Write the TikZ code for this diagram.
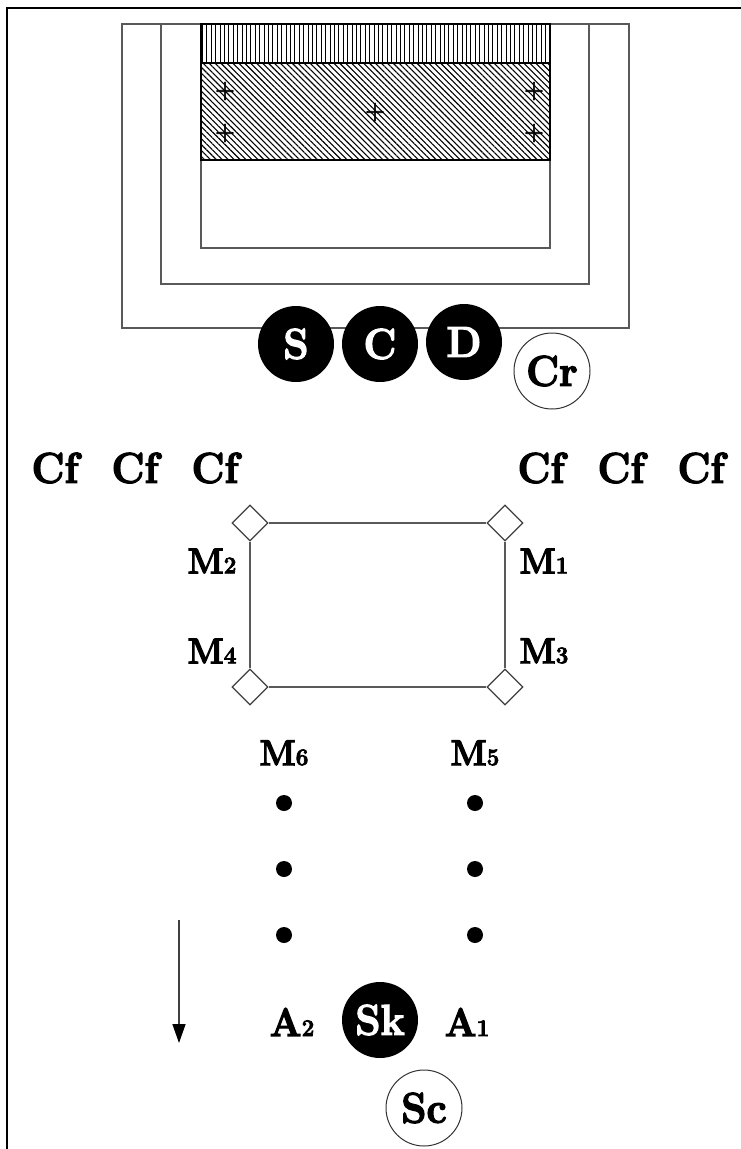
\documentclass[tikz,border=0pt]{standalone}
\usepackage{fontspec}
\setmainfont[BoldFeatures={FakeBold=3,FakeStretch=0.94}]{Latin Modern Roman}
\usetikzlibrary{calc, positioning, arrows.meta, patterns.meta, shapes}
\tikzset{
  blackdisc/.style={circle, fill=black, text=white, minimum size=76pt, inner sep=0pt, font=\fontsize{43}{45}\bfseries\selectfont},
  whitedisc/.style={circle, draw=black!80, line width=1pt, minimum size=76pt, inner sep=0pt, font=\fontsize{43}{45}\bfseries\selectfont},
  bigtext/.style={inner sep=0pt, font=\fontsize{43}{45}\bfseries\selectfont},
  pintext/.style={inner sep=0pt, font=\fontsize{36}{38}\bfseries\selectfont},
  amptext/.style={inner sep=0pt, font=\fontsize{40}{42}\bfseries\selectfont},
  plustext/.style={inner sep=0pt, font=\fontsize{24}{24}\bfseries\selectfont},
  port/.style={diamond, draw=black!75, line width=1.2pt, fill=white, aspect=1, minimum size=36pt, inner sep=0pt},
  dotpin/.style={circle, fill=black, minimum size=16pt, inner sep=0pt},
  wire/.style={draw=black!65, line width=1.6pt}
}
\newcommand{\pinidx}[1]{{\fontsize{24}{24}\selectfont #1}}

\begin{document}
\begin{tikzpicture}
              [x=1pt, y=-1pt, node distance=84pt]
              \useasboundingbox (0,0) rectangle (741,1149);

              % frame %
              \coordinate (ftop) at (741,8);
              \coordinate (fcorner) at (7,8);
              \coordinate (fbottom) at (7,1149);
              \draw[line width=2pt] (ftop) -- (fcorner) -- (fbottom);

              % package %
              \draw[wire] (122,24) rectangle (629,328);
              \draw[wire] (161,24) rectangle (589,284);
              \draw[wire] (201,24) rectangle (550,248);
              \draw[line width=1.6pt, pattern={Lines[angle=90, distance=4.4pt, line width=1pt]}] (201,24) rectangle (550,63);
              \draw[line width=2pt, pattern={Lines[angle=-45, distance=4.2pt, line width=1.1pt]}] (201,63) rectangle (550,160);

              % pluses %
              \node[plustext] (p1) at (225,91) {+};
              \node[plustext] (p2) at (225,133) {+};
              \node[plustext] (p3) at (375,112) {+};
              \node[plustext] (p4) at (534,91) {+};
              \node[plustext] (p5) at (534,133) {+};

              % discs %
              \node[blackdisc] (s) at (296,344) {S};
              \node[blackdisc, right of = s] (c) {C};
              \node[blackdisc] (d) at (464,342) {D};
              \node[whitedisc] (cr) at (552,371) {Cr};
              \node[blackdisc] (sk) at (380,1020) {Sk};
              \node[whitedisc] (sc) at (424,1108) {Sc};

              % cf labels %
              \node[bigtext] (cf1) at (55,468) {Cf};
              \node[bigtext, right of = cf1, node distance=80pt] (cf2) {Cf};
              \node[bigtext, right of = cf2, node distance=80pt] (cf3) {Cf};
              \node[bigtext] (cf4) at (541,468) {Cf};
              \node[bigtext, right of = cf4, node distance=80pt] (cf5) {Cf};
              \node[bigtext, right of = cf5, node distance=80pt] (cf6) {Cf};

              % ports %
              \node[port] (q2) at (250,523) {};
              \node[port] (q1) at (505,523) {};
              \node[port] (q4) at (250,687) {};
              \node[port] (q3) at (505,687) {};

              % edges %
              \draw[wire] (q2) -- (q1);
              \draw[wire] (q1) -- (q3);
              \draw[wire] (q3) -- (q4);
              \draw[wire] (q4) -- (q2);

              % pin labels %
              \node[pintext] (m2) at (212,561) {M\pinidx{2}};
              \node[pintext] (m1) at (544,561) {M\pinidx{1}};
              \node[pintext] (m4) at (212,651) {M\pinidx{4}};
              \node[pintext] (m3) at (544,651) {M\pinidx{3}};
              \node[pintext] (m6) at (284,753) {M\pinidx{6}};
              \node[pintext] (m5) at (475,753) {M\pinidx{5}};
              \node[amptext] (a2) at (292,1022) {A\pinidx{2}};
              \node[amptext] (a1) at (467,1022) {A\pinidx{1}};

              % dots %
              \node[dotpin] (d1) at (284,803) {};
              \node[dotpin, below of = d1, node distance=66pt] (d2) {};
              \node[dotpin, below of = d2, node distance=66pt] (d3) {};
              \node[dotpin] (d4) at (475,803) {};
              \node[dotpin, below of = d4, node distance=66pt] (d5) {};
              \node[dotpin, below of = d5, node distance=66pt] (d6) {};

              % arrow %
              \coordinate (atop) at (179,920);
              \coordinate (aend) at (179,1043);
              \draw[-{Triangle[length=19pt, width=13pt, black]}, wire, draw=black!75] (atop) -- (aend);
            \end{tikzpicture}
\end{document}
